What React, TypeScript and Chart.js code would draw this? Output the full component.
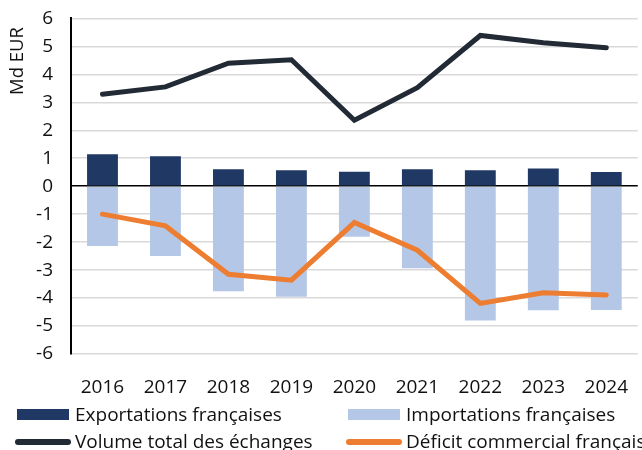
import React, { useEffect, useRef } from "react";
import { Chart, registerables } from "chart.js";

Chart.register(...registerables);

const categories = ["2016", "2017", "2018", "2019", "2020", "2021", "2022", "2023", "2024"];
const exportsFr = [1.14, 1.07, 0.61, 0.57, 0.52, 0.61, 0.57, 0.63, 0.51];
const importsFr = [-2.14, -2.5, -3.76, -3.95, -1.81, -2.93, -4.8, -4.44, -4.43];
const volumeTotal = [3.29, 3.55, 4.4, 4.52, 2.36, 3.52, 5.39, 5.13, 4.95];
const deficit = [-1.0, -1.42, -3.15, -3.36, -1.3, -2.29, -4.19, -3.81, -3.89];
const yTitle = "Md EUR";

const FONT = "'Open Sans'";
const COL_EXP = "#1f3864";
const COL_IMP = "#b4c7e7";
const COL_VOL = "#222a36";
const COL_DEF = "#ed7d31";
const TXT = "#111";

const SHIFT = 11; // canvas is drawn shifted up by this much
const CANVAS_H = 450 + SHIFT;

const legendItems = [
  { label: "Exportations françaises", color: COL_EXP, type: "box", x: 17, y: 414.5 },
  { label: "Importations françaises", color: COL_IMP, type: "box", x: 348, y: 414.5 },
  { label: "Volume total des échanges", color: COL_VOL, type: "line", x: 17, y: 442 },
  { label: "Déficit commercial français", color: COL_DEF, type: "line", x: 348, y: 442 },
];

const decorPlugin = {
  id: "decor",
  afterDraw(chart: any) {
    const ctx = chart.ctx;
    ctx.save();
    ctx.translate(0, SHIFT);
    ctx.font = `19px ${FONT}`;
    ctx.textBaseline = "middle";
    ctx.textAlign = "left";
    for (const it of legendItems) {
      if (it.type === "box") {
        ctx.fillStyle = it.color;
        ctx.fillRect(it.x, it.y - 5.5, 52, 11);
      } else {
        ctx.strokeStyle = it.color;
        ctx.lineWidth = 6;
        ctx.lineCap = "round";
        ctx.beginPath();
        ctx.moveTo(it.x + 1, it.y);
        ctx.lineTo(it.x + 51, it.y);
        ctx.stroke();
      }
      ctx.fillStyle = TXT;
      ctx.fillText(it.label, it.x + 58, it.y + 1);
    }
    // y-axis title
    ctx.font = `18.5px ${FONT}`;
    ctx.translate(18, 61);
    ctx.rotate(-Math.PI / 2);
    ctx.textAlign = "center";
    ctx.fillText(yTitle, 0, 0);
    ctx.restore();
  },
};

export default function App() {
  const ref = useRef<HTMLCanvasElement | null>(null);
  useEffect(() => {
    if (!ref.current) return;
    const chart = new Chart(ref.current, {
      type: "bar",
      data: {
        labels: categories,
        datasets: [
          {
            type: "line",
            label: "Volume total des échanges",
            data: volumeTotal,
            borderColor: COL_VOL,
            backgroundColor: COL_VOL,
            borderWidth: 5,
            pointRadius: 0,
            borderCapStyle: "round",
            borderJoinStyle: "miter",
            tension: 0,
            order: 0,
          } as any,
          {
            type: "line",
            label: "Déficit commercial français",
            data: deficit,
            borderColor: COL_DEF,
            backgroundColor: COL_DEF,
            borderWidth: 5,
            pointRadius: 0,
            borderCapStyle: "round",
            borderJoinStyle: "miter",
            tension: 0,
            order: 0,
          } as any,
          {
            label: "Exportations françaises",
            data: exportsFr,
            backgroundColor: COL_EXP,
            categoryPercentage: 1,
            barPercentage: 0.49,
            order: 1,
          },
          {
            label: "Importations françaises",
            data: importsFr,
            backgroundColor: COL_IMP,
            categoryPercentage: 1,
            barPercentage: 0.49,
            order: 1,
          },
        ],
      },
      options: {
        responsive: false,
        animation: false,
        layout: { autoPadding: false, padding: { top: 18, right: 0, left: 0, bottom: 0 } },
        plugins: {
          legend: { display: false },
          tooltip: { enabled: false },
        },
        scales: {
          x: {
            stacked: true,
            grid: { display: false },
            border: { display: false },
            ticks: { color: TXT, font: { family: FONT, size: 19 }, padding: 14 },
            afterFit: (s: any) => {
              s.height = 96;
            },
          },
          y: {
            stacked: false,
            min: -6,
            max: 6,
            ticks: {
              stepSize: 1,
              color: TXT,
              font: { family: FONT, size: 19 },
              padding: 18,
            },
            grid: {
              drawTicks: false,
              color: (c: any) => (c.tick && c.tick.value === 0 ? "#000" : "#d9d9d9"),
              lineWidth: 1.5,
            },
            border: { display: true, color: "#000", width: 2 },
            afterFit: (s: any) => {
              s.width = 71;
            },
          },
        },
      },
      plugins: [decorPlugin],
    });
    return () => chart.destroy();
  }, []);
  return (
    <div
      style={{
        position: "fixed",
        left: 0,
        top: 0,
        width: 642,
        height: 450,
        overflow: "hidden",
        background: "#fff",
      }}
    >
      <canvas
        ref={ref}
        width={642}
        height={CANVAS_H}
        style={{ display: "block", position: "absolute", left: 0, top: -SHIFT }}
      />
    </div>
  );
}
